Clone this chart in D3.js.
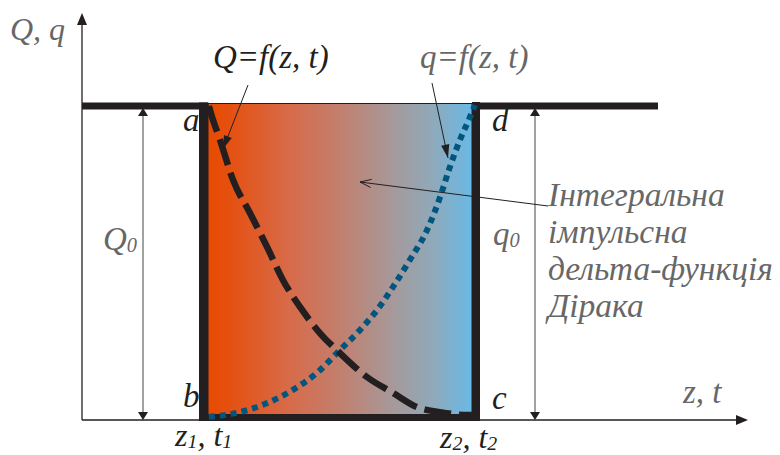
<!DOCTYPE html>
<html>
<head>
  <meta charset="utf-8">
  <title>Dirac delta</title>
  <script src="https://cdn.jsdelivr.net/npm/d3@7"></script>
  <style>
    body { margin: 0; background: #fff; }
  </style>
</head>
<body>
  <svg width="780" height="455"></svg>
</body>
<script>

// Q = f(z, t) : falls from Q0 at z1 to ~0 at z2
const qBigZ = [0.018, 0.022, 0.059, 0.107, 0.169, 0.232, 0.290, 0.353, 0.426, 0.500, 0.599, 0.695, 0.783, 0.868, 0.967, 0.985];
const qBigV = [1.000, 0.987, 0.892, 0.764, 0.659, 0.551, 0.446, 0.360, 0.277, 0.213, 0.137, 0.086, 0.041, 0.025, 0.016, 0.016];

// q = f(z, t) : rises from ~0 at z1 to q0 at z2
const qSmallZ = [0.018, 0.132, 0.232, 0.327, 0.415, 0.500, 0.574, 0.636, 0.695, 0.757, 0.820, 0.868, 0.904, 0.941, 0.978, 0.996];
const qSmallV = [0.010, 0.025, 0.054, 0.096, 0.150, 0.223, 0.287, 0.350, 0.424, 0.510, 0.605, 0.710, 0.806, 0.892, 0.965, 1.003];

const Q0 = 1, q0 = 1;
const zLimits = [0, 1];   // z1, z2

const textLines = ['Інтегральна', 'імпульсна', 'дельта-функція', 'Дірака'];

const dark = '#231f20';
const grey = '#676767';
const font = 'Liberation Serif';

let svg = d3.select('svg');

let x = d3.scaleLinear().domain([0, 1]).range([204, 476]);
let y = d3.scaleLinear().domain([0, 1]).range([420, 106]);

const zMin = x.invert(82), zMax = x.invert(748), zTop = x.invert(658);
const vTop = y.invert(13);

// gradient fill of the delta box
let defs = svg.append('defs');
let grad = defs.append('linearGradient').attr('id', 'box').attr('x1', 0).attr('x2', 1).attr('y1', 0).attr('y2', 0);
[[0, '#e84a00'], [0.08, '#e55010'], [0.3, '#d86a48'], [0.5, '#c27f6e'], [0.7, '#a6999a'], [0.85, '#8fa9ba'], [1, '#69b9e6']]
  .forEach(s => grad.append('stop').attr('offset', s[0]).attr('stop-color', s[1]));

svg.append('rect')
  .attr('x', x(zLimits[0]) + 4)
  .attr('y', y(Q0) - 2.5)
  .attr('width', x(zLimits[1]) - x(zLimits[0]) - 8)
  .attr('height', y(0) - y(Q0) - 3)
  .style('fill', 'url(#box)')
  .style('stroke', dark)
  .style('stroke-width', 1);

// axes
let tri = (tx, ty, dir, w, l) => {
  // dir: 'up', 'down', 'right'
  if (dir == 'up') return `M${tx},${ty}L${tx - w/2},${ty + l}L${tx + w/2},${ty + l}Z`;
  if (dir == 'down') return `M${tx},${ty}L${tx - w/2},${ty - l}L${tx + w/2},${ty - l}Z`;
  return `M${tx},${ty}L${tx - l},${ty - w/2}L${tx - l},${ty + w/2}Z`;
}

svg.append('line').attr('x1', x(zMin)).attr('x2', x(zMin)).attr('y1', y(0)).attr('y2', y(vTop) + 8)
  .style('stroke', dark).style('stroke-width', 1.3);
svg.append('path').attr('d', tri(x(zMin), y(vTop), 'up', 10, 12)).style('fill', dark);
svg.append('line').attr('x1', x(zMin)).attr('x2', x(zMax) - 8).attr('y1', y(0)).attr('y2', y(0))
  .style('stroke', dark).style('stroke-width', 1.3);
svg.append('path').attr('d', tri(x(zMax), y(0), 'right', 10, 12)).style('fill', dark);

// thick frame
let thick = (x1, y1, x2, y2, w) => svg.append('line')
  .attr('x1', x1).attr('y1', y1).attr('x2', x2).attr('y2', y2)
  .style('stroke', dark).style('stroke-width', w);

thick(x(zMin), y(Q0), x(zLimits[0]) + 4.5, y(Q0), 7);
thick(x(zLimits[1]) - 4, y(Q0), x(zTop), y(Q0), 7);
thick(x(zLimits[0]) - 0.5, y(Q0) - 3.5, x(zLimits[0]) - 0.5, y(0) + 1, 9);
thick(x(zLimits[1]), y(Q0) - 4, x(zLimits[1]), y(0) + 1, 8);
thick(x(zLimits[0]) + 2, y(0) - 2.5, x(zLimits[1]) + 4, y(0) - 2.5, 7);

// dimension arrows Q0, q0
let dim = (zx) => {
  svg.append('line').attr('x1', x(zx)).attr('x2', x(zx)).attr('y1', y(Q0) + 6).attr('y2', y(0) - 6)
    .style('stroke', '#8a8a8a').style('stroke-width', 1.6);
  svg.append('path').attr('d', tri(x(zx), y(Q0) + 2, 'up', 10, 8)).style('fill', dark);
  svg.append('path').attr('d', tri(x(zx), y(0), 'down', 10, 8)).style('fill', dark);
}
dim(x.invert(143));
dim(x.invert(535));

// curves
let line = d3.line().x(d => x(d[0])).y(d => y(d[1])).curve(d3.curveMonotoneX);

svg.append('path')
  .attr('d', line(qSmallZ.map((z, i) => [z, qSmallV[i]])))
  .style('fill', 'none')
  .style('stroke', '#00567f')
  .style('stroke-width', 6)
  .style('stroke-dasharray', '6,5');

svg.append('path')
  .attr('d', line(qBigZ.map((z, i) => [z, qBigV[i]])))
  .style('fill', 'none')
  .style('stroke', dark)
  .style('stroke-width', 6.5)
  .style('stroke-dasharray', '27,8');

// pointer arrows
let pointer = (x1, y1, x2, y2, open) => {
  svg.append('line').attr('x1', x1).attr('y1', y1).attr('x2', x2).attr('y2', y2)
    .style('stroke', dark).style('stroke-width', 1);
  let a = Math.atan2(y2 - y1, x2 - x1);
  let l = open ? 12 : 14, w = open ? 0.35 : 0.3;
  let p1 = [x2 - l*Math.cos(a - w), y2 - l*Math.sin(a - w)];
  let p2 = [x2 - l*Math.cos(a + w), y2 - l*Math.sin(a + w)];
  if (open) {
    svg.append('path').attr('d', `M${p1}L${x2},${y2}L${p2}`).style('fill', 'none').style('stroke', dark).style('stroke-width', 1);
  } else {
    svg.append('path').attr('d', `M${p1}L${x2},${y2}L${p2}Z`).style('fill', dark);
  }
}
pointer(248, 85, 223, 149, false);
pointer(432, 83, 448, 158, false);
pointer(548, 206, 360, 182, true);

// text, parts like ['z', {sub: '1'}, ', t', {sub: '1'}]
let label = (tx, ty, parts, color, size) => {
  let t = svg.append('text').attr('x', tx).attr('y', ty)
    .attr('font-family', font).attr('font-style', 'italic').attr('font-size', size)
    .style('fill', color);
  let down = false;
  parts.forEach(p => {
    if (typeof p == 'string') {
      t.append('tspan').attr('dy', down ? -2 : 0).text(p);
      down = false;
    } else {
      t.append('tspan').attr('dy', 2).attr('font-size', size*0.62).text(p.sub);
      down = true;
    }
  });
  return t;
}

label(10, 40, ['Q, q'], grey, 32);
label(213, 68, ['Q=f(z, t)'], dark, 33);
label(420, 68, ['q=f(z, t)'], grey, 33);
label(183, 131, ['a'], dark, 33);
label(183, 407, ['b'], dark, 33);
label(492, 409, ['c'], dark, 33);
label(492, 131, ['d'], dark, 33);
label(103, 250, ['Q', {sub: '0'}], grey, 33);
label(493, 245, ['q', {sub: '0'}], grey, 33);
label(683, 403, ['z, t'], grey, 33);
label(175, 446, ['z', {sub: '1'}, ', t', {sub: '1'}], dark, 32);
label(440, 448, ['z', {sub: '2'}, ', t', {sub: '2'}], dark, 32);

textLines.forEach((s, i) => label(548, 206 + i*37, [s], grey, 33.5));

</script>
</html>
